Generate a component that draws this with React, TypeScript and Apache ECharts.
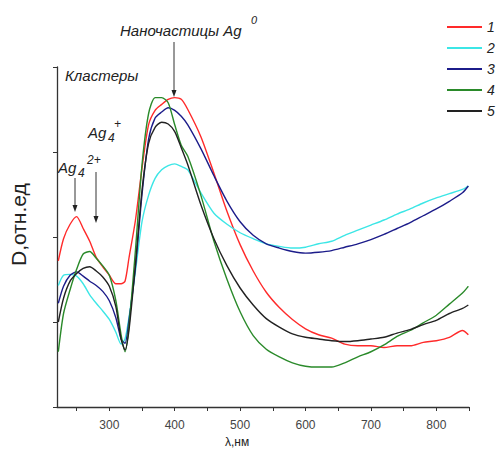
import React, { useEffect, useRef } from "react";
import * as echarts from "echarts";

const wavelengths = [222, 230, 240, 250, 260, 270, 280, 290, 300, 310, 318, 324, 330, 340, 350, 360, 370, 380, 390, 400, 410, 420, 440, 460, 480, 500, 520, 540, 560, 580, 600, 620, 640, 660, 680, 700, 720, 740, 760, 780, 800, 820, 840, 849];

const series1 = [1.72, 1.98, 2.15, 2.24, 2.1, 1.95, 1.76, 1.65, 1.55, 1.45, 1.45, 1.48, 1.75, 2.2, 2.81, 3.32, 3.49, 3.56, 3.62, 3.64, 3.62, 3.5, 3.18, 2.75, 2.3, 1.91, 1.6, 1.35, 1.17, 1.03, 0.92, 0.85, 0.81, 0.74, 0.72, 0.72, 0.7, 0.72, 0.72, 0.76, 0.78, 0.82, 0.9, 0.85];
const series2 = [1.43, 1.55, 1.56, 1.54, 1.45, 1.32, 1.22, 1.13, 1.03, 0.88, 0.74, 0.8, 1.05, 1.6, 2.18, 2.49, 2.69, 2.79, 2.84, 2.86, 2.83, 2.79, 2.52, 2.28, 2.15, 2.05, 1.98, 1.92, 1.89, 1.87, 1.88, 1.92, 1.95, 2.02, 2.08, 2.14, 2.2, 2.27, 2.33, 2.4, 2.46, 2.51, 2.56, 2.6];
const series3 = [1.22, 1.42, 1.55, 1.59, 1.54, 1.48, 1.43, 1.36, 1.25, 1.05, 0.8, 0.75, 1.02, 1.65, 2.5, 3.15, 3.4, 3.47, 3.52, 3.49, 3.42, 3.32, 3.04, 2.72, 2.42, 2.18, 2.02, 1.92, 1.87, 1.83, 1.81, 1.82, 1.84, 1.88, 1.92, 1.97, 2.03, 2.1, 2.17, 2.25, 2.33, 2.42, 2.52, 2.6];
const series4 = [0.65, 1.1, 1.38, 1.62, 1.8, 1.83, 1.75, 1.66, 1.55, 1.25, 0.85, 0.65, 0.95, 1.85, 2.85, 3.45, 3.64, 3.64, 3.58, 3.32, 3.08, 2.95, 2.49, 1.95, 1.5, 1.12, 0.84, 0.68, 0.59, 0.52, 0.48, 0.47, 0.47, 0.52, 0.59, 0.65, 0.73, 0.83, 0.9, 0.99, 1.08, 1.21, 1.34, 1.42];
const series5 = [1.0, 1.28, 1.48, 1.57, 1.63, 1.65, 1.6, 1.53, 1.42, 1.18, 0.8, 0.67, 0.9, 1.68, 2.55, 3.1, 3.29, 3.35, 3.33, 3.24, 3.05, 2.85, 2.38, 1.98, 1.66, 1.4, 1.2, 1.04, 0.94, 0.86, 0.82, 0.8, 0.78, 0.77, 0.78, 0.8, 0.82, 0.87, 0.91, 0.97, 1.02, 1.1, 1.16, 1.2];

const seriesNames = ["1", "2", "3", "4", "5"];
const seriesColors = ["#ff2a2a", "#3ce6e6", "#1c1c8a", "#2a8a2a", "#222222"];
const allSeries = [series1, series2, series3, series4, series5];

const xTicks = [250, 300, 350, 400, 450, 500, 550, 600, 650, 700, 750, 800, 850];
const xLabels = [300, 400, 500, 600, 700, 800];

const FONT = "Liberation Sans, Arial, sans-serif";

function arrow(x: number, y1: number, y2: number) {
  return [
    { type: "line", shape: { x1: x, y1, x2: x, y2: y2 - 6 }, style: { stroke: "#333", lineWidth: 1 } },
    { type: "polygon", shape: { points: [[x - 2.5, y2 - 7], [x + 2.5, y2 - 7], [x, y2]] }, style: { fill: "#222" } },
  ];
}

function txt(x: number, y: number, text: string, size: number, italic = true) {
  return {
    type: "text",
    x,
    y,
    style: { text, fontSize: size, fontStyle: italic ? "italic" : "normal", fontFamily: FONT, fill: "#222", textVerticalAlign: "top" },
  };
}

export default function App() {
  const ref = useRef<HTMLDivElement>(null);
  useEffect(() => {
    if (!ref.current) return;
    const chart = echarts.init(ref.current, null, { renderer: "svg" });
    chart.setOption({
      animation: false,
      backgroundColor: "#fff",
      grid: { left: 57, right: 28, top: 67, bottom: 45 },
      legend: {
        orient: "vertical",
        left: 447,
        top: 19,
        padding: 0,
        icon: "rect",
        itemWidth: 35,
        itemHeight: 2,
        itemGap: 5,
        data: seriesNames,
        textStyle: { fontSize: 14, fontStyle: "italic", fontFamily: FONT, color: "#222", lineHeight: 16 },
      },
      xAxis: {
        type: "value",
        min: 220,
        max: 850,
        axisLine: { show: true, lineStyle: { color: "#333", width: 1.3 } },
        axisTick: { show: true, length: 4, customValues: xTicks, lineStyle: { color: "#333" } },
        axisLabel: { customValues: xLabels, margin: 12, fontSize: 12, color: "#444", fontFamily: FONT },
        splitLine: { show: false },
      },
      yAxis: {
        type: "value",
        min: 0,
        max: 4,
        interval: 1,
        axisLine: { show: true, lineStyle: { color: "#333", width: 1.3 } },
        axisTick: { show: true, length: 4, lineStyle: { color: "#333" } },
        axisLabel: { show: false },
        splitLine: { show: false },
      },
      series: allSeries.map((vals, i) => ({
        name: seriesNames[i],
        type: "line",
        data: wavelengths.map((w, j) => [w, vals[j]]),
        symbol: "none",
        smooth: 0.25,
        lineStyle: { color: seriesColors[i], width: 1.4 },
        itemStyle: { color: seriesColors[i] },
      })),
      graphic: [
        txt(225, 436, "λ,нм", 12, false),
        {
          type: "text",
          x: 8,
          y: 266,
          rotation: Math.PI / 2,
          style: { text: "D,отн.ед", fontSize: 21, fontFamily: FONT, fill: "#222", textVerticalAlign: "top" },
        },
        txt(120, 23, "Наночастицы Ag", 15),
        txt(251, 14, "0", 11),
        txt(65, 68, "Кластеры", 15),
        txt(88, 125, "Ag", 15),
        txt(108, 132, "4", 12),
        txt(114, 118, "+", 12),
        txt(58, 160, "Ag", 15),
        txt(78, 167, "4", 12),
        txt(87, 154, "2+", 12),
        ...arrow(174, 42, 97),
        ...arrow(75, 178, 212),
        ...arrow(96, 172, 223),
      ],
    });
    return () => chart.dispose();
  }, []);
  return <div ref={ref} style={{ position: "absolute", left: 0, top: 0, width: 497, height: 452 }} />;
}
